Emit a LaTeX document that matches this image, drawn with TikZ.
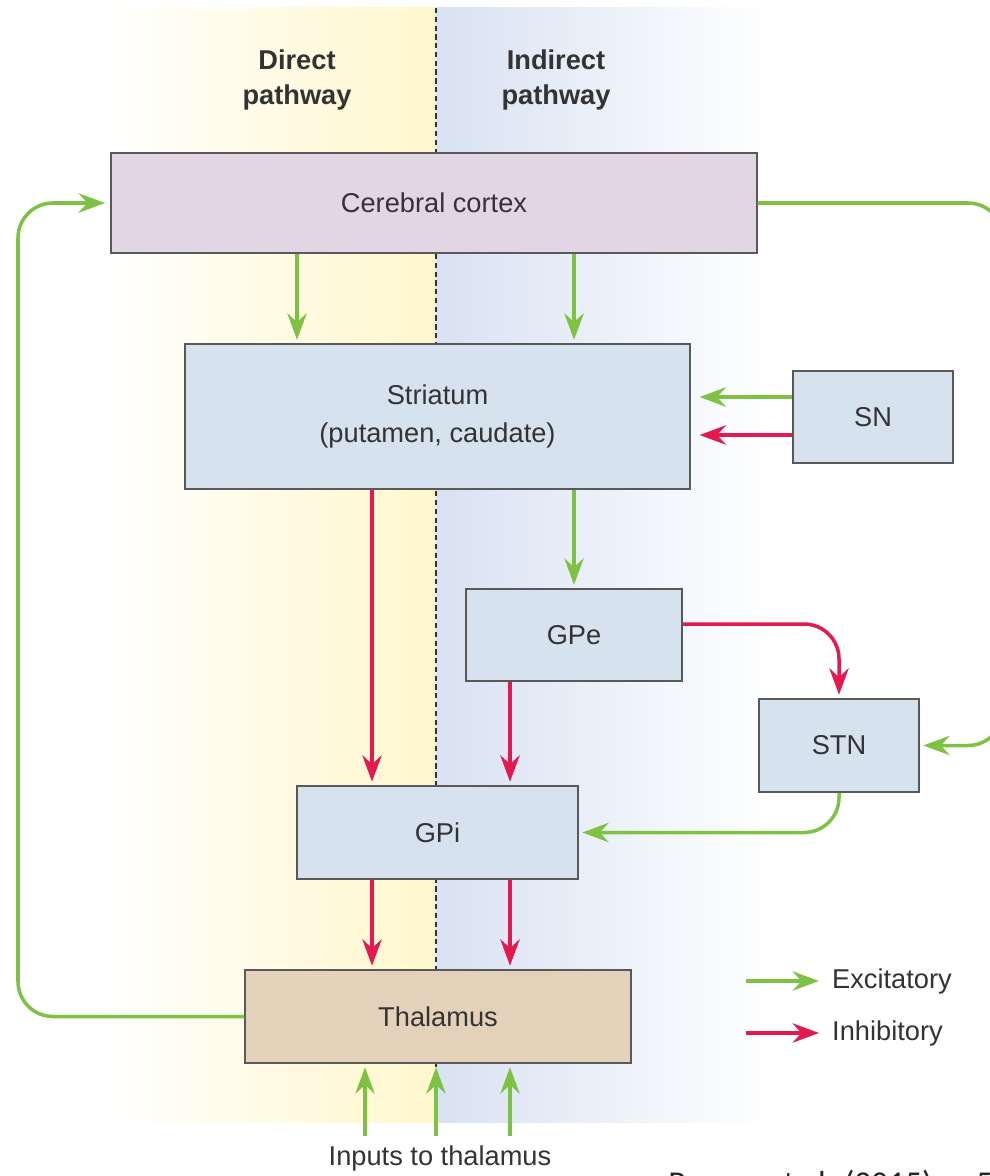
\documentclass[tikz,border=0pt]{standalone}
\usepackage{fontspec}
\setmainfont{Liberation Sans}
\newfontfamily\citefont{Carlito}
\usepackage{tikz}
\usetikzlibrary{arrows.meta,positioning,calc}
\definecolor{excgreen}{RGB}{125,194,66}
\definecolor{inhred}{RGB}{229,25,79}
\definecolor{cortexfill}{RGB}{226,214,228}
\definecolor{boxfill}{RGB}{214,227,238}
\definecolor{thalfill}{RGB}{227,210,185}
\definecolor{directbg}{RGB}{255,247,204}
\definecolor{indirectbg}{RGB}{216,226,242}
\definecolor{textgray}{RGB}{51,51,51}

\begin{document}
\begin{tikzpicture}[
    x=0.02cm, y=-0.02cm,
    font=\fontsize{15.5}{21.5}\selectfont,
    box/.style={rectangle, draw=black!65, line width=0.9pt, fill=boxfill, text=textgray, align=center, minimum height=1.86cm},
    exc/.style={-{Stealth[length=15pt,width=11pt,inset=5pt]}, line width=2pt, draw=excgreen, shorten >=2pt},
    inh/.style={-{Stealth[length=15pt,width=11pt,inset=5pt]}, line width=2pt, draw=inhred, shorten >=2pt},
    header/.style={font=\fontsize{15.5}{20}\selectfont\bfseries, text=textgray, align=center}
]
\useasboundingbox (0,0) rectangle (990,1176);
\clip (0,0) rectangle (990,1176);

% background bands
\shade[left color=white, right color=directbg] (100,8) rectangle (436,1122);
\shade[left color=indirectbg, right color=white] (436,8) rectangle (770,1122);
\draw[textgray, line width=0.6pt, dash pattern=on 3pt off 2pt] (436,8) -- (436,1122);

\node[header] (direct) at (297,80) {Direct\\pathway};
\node[header] (indirect) at (556,80) {Indirect\\pathway};

% boxes
\node[box, fill=cortexfill, minimum width=12.92cm, minimum height=2cm] (cortex) at (434,203) {Cerebral cortex};
\node[box, minimum width=10.1cm, minimum height=2.9cm] (striatum) at (437.5,416.5) {Striatum\\(putamen, caudate)};
\node[box, minimum width=3.2cm, minimum height=1.84cm] (sn) at (873,417) {SN};
\node[box, minimum width=4.32cm, minimum height=1.84cm] (gpe) at (574,635) {GPe};
\node[box, minimum width=3.2cm] (stn) at (839,745.5) {STN};
\node[box, minimum width=5.62cm] (gpi) at (437.5,832.5) {GPi};
\node[box, fill=thalfill, minimum width=7.72cm] (thalamus) at (438,1016.5) {Thalamus};

\coordinate (colA) at (297,0);
\coordinate (colB) at (574,0);
\coordinate (colC) at (372,0);
\coordinate (colD) at (510,0);
\coordinate (colE) at (365,0);
\coordinate (colF) at (436,0);
\coordinate (rgt) at (1003,0);
\coordinate (lft) at (18,0);

% connections
\draw[exc] (cortex.south -| colA) -- (striatum.north -| colA);
\draw[exc] (cortex.south -| colB) -- (striatum.north -| colB);
\draw[exc, shorten >=5pt] ([yshift=0.4cm]sn.west) -- ([yshift=0.4cm]sn.west -| striatum.east);
\draw[inh, shorten >=5pt] ([yshift=-0.36cm]sn.west) -- ([yshift=-0.36cm]sn.west -| striatum.east);
\draw[inh] (striatum.south -| colC) -- (gpi.north -| colC);
\draw[exc] (striatum.south -| colB) -- (gpe.north);
\draw[inh] (gpe.south -| colD) -- (gpi.north -| colD);
\draw[inh, rounded corners=0.7cm] ([yshift=0.22cm]gpe.east) -| (stn.north);
\draw[exc, rounded corners=0.7cm] (stn.south) |- (gpi.east);
\draw[exc, rounded corners=0.7cm] (cortex.east) -| (rgt |- stn.east) -- (stn.east);
\draw[inh] (gpi.south -| colC) -- (thalamus.north -| colC);
\draw[inh] (gpi.south -| colD) -- (thalamus.north -| colD);
\draw[exc, rounded corners=0.7cm, shorten >=3pt] (thalamus.west) -| (lft |- cortex.west) -- (cortex.west);

% inputs
\node[text=textgray] (inputs) at (440,1158) {Inputs to thalamus};
\draw[exc, shorten <=2pt] (inputs.north -| colE) -- (thalamus.south -| colE);
\draw[exc, shorten <=2pt] (inputs.north -| colF) -- (thalamus.south -| colF);
\draw[exc, shorten <=2pt] (inputs.north -| colD) -- (thalamus.south -| colD);

% legend
\coordinate (lgexc) at (746,981);
\coordinate (lginh) at (746,1033);
\node[anchor=west, text=textgray] (exctext) at (826,981) {Excitatory};
\node[anchor=west, text=textgray] (inhtext) at (826,1033) {Inhibitory};
\draw[exc, shorten >=4pt] (lgexc) -- (exctext.west);
\draw[inh, shorten >=4pt] (lginh) -- (inhtext.west);

\node[font=\citefont\fontsize{19}{22}\selectfont, anchor=base west, inner sep=0pt, text=black!85] (cite) at (668,1194) {Purves et al. (2015) p. 521};
\end{tikzpicture}
\end{document}
